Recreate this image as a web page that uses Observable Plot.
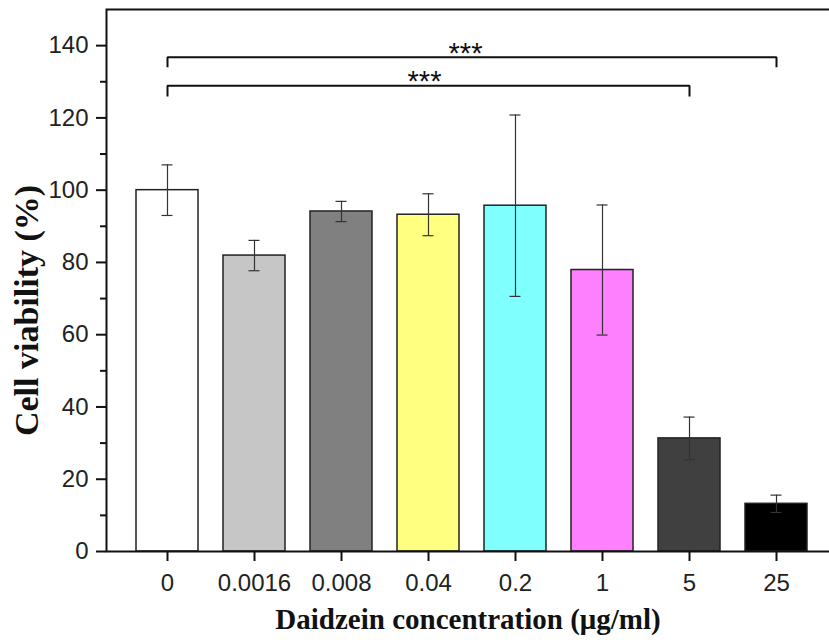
<!DOCTYPE html>
<html>
<head>
<meta charset="utf-8">
<script src="https://cdn.jsdelivr.net/npm/d3@7"></script>
<script src="https://cdn.jsdelivr.net/npm/@observablehq/plot@0.6"></script>
<style>
  html, body { margin: 0; padding: 0; background: #fff; overflow: hidden; }
</style>
</head>
<body>
<div id="chart"></div>
<script>
// ---- data ----
const concentrations = ["0", "0.0016", "0.008", "0.04", "0.2", "1", "5", "25"];
const viability = [100, 81.9, 94.1, 93.2, 95.7, 77.9, 31.3, 13.2];
const sd = [7.0, 4.2, 2.8, 5.8, 25.1, 18.0, 5.9, 2.4];
const barColors = ["#ffffff", "#c6c6c6", "#808080", "#ffff80", "#80ffff", "#ff80ff", "#404040", "#000000"];
const yMajorTicks = [0, 20, 40, 60, 80, 100, 120, 140];
const yMinorTicks = [10, 30, 50, 70, 90, 110, 130];
const bracketFrom = ["0", "0"];
const bracketTo = ["25", "5"];
const bracketLevel = [136.8, 128.9];
const bracketFoot = [134.0, 125.9];
const bracketLabel = ["***", "***"];
const bracketLabelAt = ["0.04", "0.04"];
const bracketLabelY = [137.9, 130.0];
const yLabel = "Cell viability (%)";
const xLabel = "Daidzein concentration (μg/ml)";

// ---- tables built from arrays ----
const rows = concentrations.map((c, i) => ({conc: c, mean: viability[i], lo: viability[i] - sd[i], hi: viability[i] + sd[i]}));
const bracketPts = [];
bracketFrom.forEach((f, i) => {
  bracketPts.push({id: i, x: f, y: bracketFoot[i]});
  bracketPts.push({id: i, x: f, y: bracketLevel[i]});
  bracketPts.push({id: i, x: bracketTo[i], y: bracketLevel[i]});
  bracketPts.push({id: i, x: bracketTo[i], y: bracketFoot[i]});
});
const starRows = bracketLabel.map((s, i) => ({label: s, x: bracketLabelAt[i], y: bracketLabelY[i]}));

const sans = "'Liberation Sans', Arial, sans-serif";
const serif = "'Liberation Serif', 'Times New Roman', serif";

const chart = Plot.plot({
  width: 829,
  height: 640,
  marginLeft: 106,
  marginRight: 0,
  marginTop: 9,
  marginBottom: 89,
  style: {fontFamily: sans, fontSize: "24px", color: "#222", background: "#fff", overflow: "visible"},
  x: {type: "band", domain: concentrations, range: [106, 837], paddingInner: 0.29, paddingOuter: 0.332, label: null},
  y: {domain: [0, 150], label: null},
  color: {type: "ordinal", domain: concentrations, range: barColors},
  marks: [
    Plot.barY(rows, {x: "conc", y: "mean", fill: "conc", stroke: "#222", strokeWidth: 1.5}),
    Plot.ruleX(rows, {x: "conc", y1: "lo", y2: "hi", stroke: "#333", strokeWidth: 1.2}),
    Plot.tickY(rows, {x: "conc", y: "hi", stroke: "#333", strokeWidth: 1.2, insetLeft: 25.5, insetRight: 25.5}),
    Plot.tickY(rows, {x: "conc", y: "lo", stroke: "#333", strokeWidth: 1.2, insetLeft: 25.5, insetRight: 25.5}),
    Plot.frame({stroke: "#111", strokeWidth: 2, insetRight: -8}),
    Plot.axisY(yMajorTicks, {tickSize: 10, tickPadding: 8, fontSize: 24, strokeWidth: 2, stroke: "#111", fill: "#222", label: null}),
    Plot.axisY(yMinorTicks, {tickSize: 6, tickFormat: () => "", strokeWidth: 2, stroke: "#111", label: null}),
    Plot.axisX({tickSize: 10, tickPadding: 12, fontSize: 24, strokeWidth: 2, stroke: "#111", fill: "#222", label: null}),
    Plot.line(bracketPts, {x: "x", y: "y", z: "id", stroke: "#111", strokeWidth: 2, strokeLinejoin: "miter", strokeLinecap: "butt"}),
    Plot.text(starRows.slice(0, 1), {x: "x", y: "y", text: "label", dx: 37, fontSize: 29, fill: "#111", fontFamily: sans}),
    Plot.text(starRows.slice(1, 2), {x: "x", y: "y", text: "label", dx: -4, fontSize: 29, fill: "#111", fontFamily: sans}),
    Plot.text([yLabel], {frameAnchor: "left", rotate: -90, dx: -79, dy: 30, fontSize: 34, fontWeight: "bold", fontFamily: serif, fill: "#111", textAnchor: "middle", lineAnchor: "middle"}),
    Plot.text([xLabel], {frameAnchor: "bottom", dy: 68, fontSize: 29, fontWeight: "bold", fontFamily: serif, fill: "#111", textAnchor: "middle", lineAnchor: "middle"})
  ]
});
document.getElementById("chart").appendChild(chart);
</script>
</body>
</html>
